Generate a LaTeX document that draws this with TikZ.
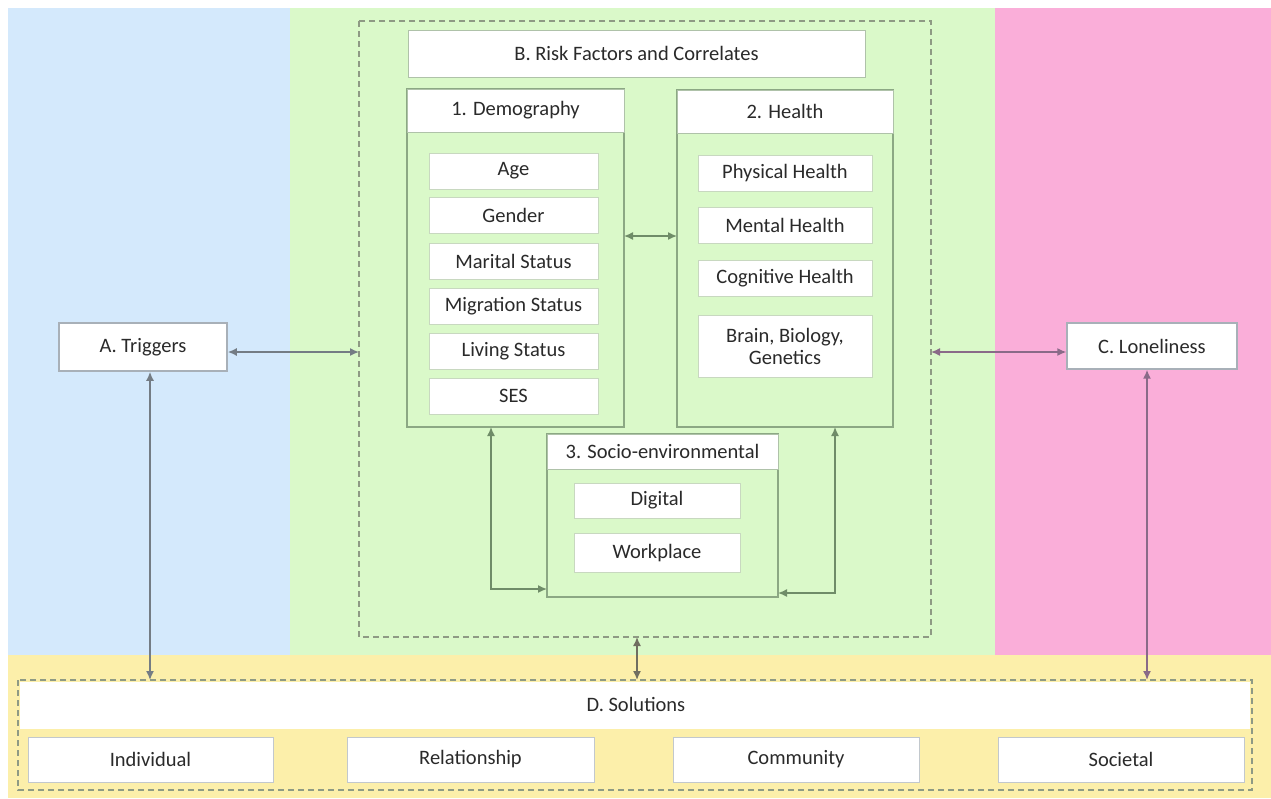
\documentclass[tikz,border=0pt]{standalone}
\usepackage{fontspec}
\setmainfont{Carlito}
\usetikzlibrary{arrows.meta}
\definecolor{bgblue}{HTML}{D4E9FC}
\definecolor{bggreen}{HTML}{DAF9C9}
\definecolor{bgpink}{HTML}{FAAED9}
\definecolor{bgyellow}{HTML}{FCEFAA}
\definecolor{grnline}{HTML}{8CA884}
\definecolor{grnarrow}{HTML}{6F8C68}
\definecolor{grayline}{HTML}{A8B0B8}
\definecolor{grayarrow}{HTML}{747C84}
\definecolor{pinkarrow}{HTML}{8A6A88}
\definecolor{yelarrow}{HTML}{706E60}
\definecolor{dashcol}{HTML}{8E9A84}
\definecolor{txt}{HTML}{2A2A2A}
\definecolor{itemline}{HTML}{C8D8C0}
\tikzset{
  box/.style={draw, fill=white, inner sep=0pt, text=txt, align=center,
    font=\fontsize{20.5}{22}\selectfont},
  itembox/.style={box, draw=itemline, line width=0.8pt},
  headbox/.style={box, draw=grnline!70, line width=1pt},
  container/.style={draw=grnline, line width=1.6pt},
  dashbox/.style={draw=dashcol, dashed, dash pattern=on 6pt off 4pt, line width=1.3pt},
  arr/.style={{Latex[length=9pt,width=8pt]}-{Latex[length=9pt,width=8pt]}, line width=1.5pt},
}
\begin{document}
\begin{tikzpicture}[x=1pt,y=-1pt]
\useasboundingbox (0,0) rectangle (1271,798);
% backgrounds
\fill[white] (0,0) rectangle (1271,798);
\fill[bgblue] (8,8) rectangle (290,655);
\fill[bggreen] (290,8) rectangle (995,655);
\fill[bgpink] (995,8) rectangle (1271,655);
\fill[bgyellow] (8,655) rectangle (1271,798);

% B dashed
\draw[dashbox] (359,21) rectangle (931,637);
\coordinate (Bl) at (359,352);
\coordinate (Br) at (931,352);
\coordinate (Bb) at (637,637);
\node[headbox, minimum width=457pt, minimum height=47pt] (B) at (636.5,53.5) {B. Risk Factors and Correlates};

% Demography
\draw[container] (407,89) rectangle (624,427);
\node[headbox, minimum width=217pt, minimum height=43pt] (demo) at (515.5,110.5) {1. Demography};
\coordinate (demoR) at (624,236);
\coordinate (demoB) at (491,427);
\node[itembox, minimum width=169pt, minimum height=36pt] (age) at (513.5,171) {Age};
\node[itembox, minimum width=169pt, minimum height=36pt] (gender) at (513.5,215.5) {Gender};
\node[itembox, minimum width=169pt, minimum height=36pt] (marital) at (513.5,261.5) {Marital Status};
\node[itembox, minimum width=169pt, minimum height=36pt] (migration) at (513.5,306.5) {Migration Status};
\node[itembox, minimum width=169pt, minimum height=36pt] (living) at (513.5,351.5) {Living Status};
\node[itembox, minimum width=169pt, minimum height=36pt] (ses) at (513.5,396) {SES};

% Health
\draw[container] (677,90) rectangle (893,427);
\node[headbox, minimum width=216pt, minimum height=43pt] (health) at (785,111.5) {2. Health};
\coordinate (healthL) at (677,236);
\coordinate (healthB) at (835,427);
\node[itembox, minimum width=174pt, minimum height=36pt] (phys) at (785,173) {Physical Health};
\node[itembox, minimum width=174pt, minimum height=36pt] (mental) at (785,225.5) {Mental Health};
\node[itembox, minimum width=174pt, minimum height=36pt] (cog) at (785,278.5) {Cognitive Health};
\node[itembox, minimum width=174pt, minimum height=62pt] (brain) at (785,346) {Brain, Biology,\\Genetics};

% Socio-environmental
\draw[container] (547,434) rectangle (778,597);
\node[headbox, minimum width=231pt, minimum height=35pt] (socio) at (662.5,451.5) {3. Socio-environmental};
\coordinate (socioL) at (547,589);
\coordinate (socioR) at (778,593);
\node[itembox, minimum width=166pt, minimum height=35pt] (digital) at (657,500.5) {Digital};
\node[itembox, minimum width=166pt, minimum height=39pt] (work) at (657,553) {Workplace};

% A Triggers
\node[box, draw=grayline, line width=1.6pt, minimum width=168pt, minimum height=48pt] (trig) at (143,347) {A. Triggers};
% C Loneliness
\node[box, draw=grayline, line width=1.4pt, minimum width=170pt, minimum height=46pt] (lone) at (1152,346) {C. Loneliness};

% D Solutions
\draw[dashbox] (18,680) rectangle (1252,790);
\fill[white] (20,682) rectangle (1250,729);
\node[text=txt, font=\fontsize{20.5}{22}\selectfont] (D) at (636,704) {D. Solutions};
\coordinate (Dt1) at (150,680);
\coordinate (Dt2) at (637,680);
\coordinate (Dt3) at (1147,680);
\node[box, draw=grayline!70, line width=0.8pt, minimum width=245pt, minimum height=45pt] (ind) at (150.5,759.5) {Individual};
\node[box, draw=grayline!70, line width=0.8pt, minimum width=247pt, minimum height=45pt] (rel) at (470.5,759.5) {Relationship};
\node[box, draw=grayline!70, line width=0.8pt, minimum width=246pt, minimum height=45pt] (com) at (796,759.5) {Community};
\node[box, draw=grayline!70, line width=0.8pt, minimum width=246pt, minimum height=45pt] (soc) at (1121,759.5) {Societal};

% arrows
\draw[arr, grnarrow] (demoR) -- (healthL);
\draw[arr, grnarrow] (demoB) -- (491,589) -- (socioL);
\draw[arr, grnarrow] (healthB) -- (835,593) -- (socioR);
\draw[arr, yelarrow] (Bb) -- (Dt2);
\draw[arr, grayarrow] (trig.east |- Bl) -- (Bl);
\draw[arr, grayarrow] (trig.south -| Dt1) -- (Dt1);
\draw[arr, pinkarrow] (Br) -- (lone.west |- Br);
\draw[arr, pinkarrow] (lone.south -| Dt3) -- (Dt3);
\end{tikzpicture}
\end{document}
